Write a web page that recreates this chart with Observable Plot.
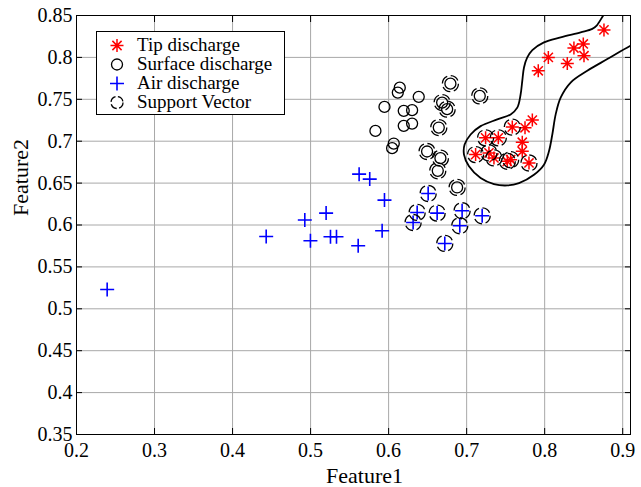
<!DOCTYPE html>
<html>
<head>
<meta charset="utf-8">
<script src="https://cdn.jsdelivr.net/npm/d3@7"></script>
<script src="https://cdn.jsdelivr.net/npm/@observablehq/plot@0.6"></script>
<style>
  body { margin: 0; background: #fff; }
  #wrap { position: relative; width: 641px; height: 487px; font-family: "Liberation Serif", serif; }
  #legend { position: absolute; left: 96px; top: 31px; width: 187px; height: 82px; border: 1px solid #000; background: #fff; font-size: 19px; }
  #legend .row { position: absolute; left: 0; height: 19px; line-height: 18px; white-space: nowrap; }
  #legend svg { position: absolute; left: 10px; top: -1px; }
  #legend span { position: absolute; display: block; left: 40px; top: 0; height: 18px; overflow: visible; }
</style>
</head>
<body>
<div id="wrap"></div>
<script>
// Tip discharge samples (red asterisks)
const tipX = [0.876, 0.8375, 0.8495, 0.8504, 0.8047, 0.829, 0.7918, 0.7842, 0.7748, 0.7585, 0.7713, 0.7243, 0.7406, 0.7713, 0.7115, 0.7286, 0.735, 0.7521, 0.7564, 0.7799];
const tipY = [0.8328, 0.8112, 0.816, 0.802, 0.80, 0.7928, 0.784, 0.7252, 0.716, 0.7168, 0.6988, 0.704, 0.704, 0.688, 0.684, 0.686, 0.680, 0.676, 0.678, 0.674];
const tipSV = [0, 0, 0, 0, 0, 0, 0, 0, 0, 1, 0, 1, 1, 0, 1, 1, 1, 1, 1, 1];

// Surface discharge samples (black circles)
const surfX = [0.6143, 0.6118, 0.6386, 0.6792, 0.7168, 0.5947, 0.6194, 0.6301, 0.6686, 0.675, 0.6194, 0.6301, 0.5831, 0.6643, 0.6066, 0.6045, 0.6493, 0.6664, 0.663, 0.6878];
const surfY = [0.7639, 0.758, 0.7529, 0.7687, 0.754, 0.7409, 0.7362, 0.737, 0.7461, 0.7382, 0.7183, 0.721, 0.7123, 0.7163, 0.6972, 0.6917, 0.6877, 0.6798, 0.6647, 0.6448];
const surfSV = [0, 0, 0, 1, 1, 0, 0, 0, 1, 1, 0, 0, 0, 1, 0, 0, 1, 1, 1, 1];

// Air discharge samples (blue plus signs)
const airX = [0.2393, 0.5622, 0.5758, 0.5947, 0.5199, 0.4926, 0.5917, 0.4431, 0.5255, 0.5332, 0.4998, 0.561, 0.6507, 0.6366, 0.6314, 0.6622, 0.6942, 0.6912, 0.7199, 0.672];
const airY = [0.523, 0.6607, 0.6548, 0.6297, 0.6142, 0.6059, 0.5931, 0.5863, 0.5859, 0.5859, 0.5812, 0.5753, 0.6376, 0.615, 0.603, 0.6142, 0.617, 0.5991, 0.611, 0.578];
const airSV = [0, 0, 0, 0, 0, 0, 0, 0, 0, 0, 0, 0, 1, 1, 1, 1, 1, 1, 1, 1];

// Decision boundary around the tip-discharge class
const boundaryX = [0.8800, 0.8751, 0.8666, 0.8610, 0.8461, 0.8205, 0.7991, 0.7842, 0.7777, 0.7735, 0.7713, 0.7692, 0.7649, 0.7564, 0.7393, 0.7179, 0.7051, 0.6974, 0.6966, 0.7030, 0.7179, 0.7350, 0.7521, 0.7671, 0.7863, 0.7991, 0.8055, 0.8098, 0.8141, 0.8205, 0.8333, 0.8546, 0.8803, 0.9102, 0.9200];
const boundaryY = [0.8560, 0.8500, 0.8380, 0.8340, 0.8300, 0.8240, 0.8180, 0.8088, 0.8000, 0.7880, 0.7720, 0.7560, 0.7400, 0.7320, 0.7260, 0.7180, 0.7080, 0.6960, 0.6840, 0.6700, 0.6560, 0.6488, 0.6472, 0.6500, 0.6600, 0.6720, 0.6880, 0.7080, 0.7320, 0.7520, 0.7700, 0.7840, 0.7980, 0.8140, 0.8180];

// Axis ticks and titles
const xTicks = [0.2, 0.3, 0.4, 0.5, 0.6, 0.7, 0.8, 0.9];
const yTicks = [0.35, 0.4, 0.45, 0.5, 0.55, 0.6, 0.65, 0.7, 0.75, 0.8, 0.85];
const xTitle = "Feature1";
const yTitle = "Feature2";

const rows = (xs, ys, sv) => xs.map((x, i) => ({x, y: ys[i], sv: sv[i]}));
const tip = rows(tipX, tipY, tipSV);
const surf = rows(surfX, surfY, surfSV);
const air = rows(airX, airY, airSV);
const supportVectors = [...tip, ...surf, ...air].filter(d => d.sv);
const boundary = boundaryX.map((x, i) => ({x, y: boundaryY[i]}));

// Stroke-only marker shapes
const asterisk = {
  draw(ctx, size) {
    const r = Math.sqrt(size / Math.PI), d = r * Math.SQRT1_2;
    ctx.moveTo(-r, 0); ctx.lineTo(r, 0);
    ctx.moveTo(0, -r); ctx.lineTo(0, r);
    ctx.moveTo(-d, -d); ctx.lineTo(d, d);
    ctx.moveTo(-d, d); ctx.lineTo(d, -d);
  }
};
const plus = {
  draw(ctx, size) {
    const r = Math.sqrt(size / Math.PI);
    ctx.moveTo(-r, 0); ctx.lineTo(r, 0);
    ctx.moveTo(0, -r); ctx.lineTo(0, r);
  }
};

const fmt = d => String(+d.toFixed(2));

const chart = Plot.plot({
  width: 641,
  height: 487,
  marginLeft: 76,
  marginRight: 11,
  marginTop: 15,
  marginBottom: 53,
  style: {fontFamily: "'Liberation Serif', serif", fontSize: "20px", color: "#000", background: "#fff"},
  x: {domain: [0.2, 0.91]},
  y: {domain: [0.35, 0.85]},
  marks: [
    Plot.gridX(xTicks, {stroke: "#a8a8a8", strokeOpacity: 1}),
    Plot.gridY(yTicks, {stroke: "#a8a8a8", strokeOpacity: 1}),
    Plot.axisX(xTicks, {tickSize: 0, tickPadding: 8, tickFormat: fmt, label: null}),
    Plot.axisY(yTicks, {tickSize: 0, tickPadding: 4, tickFormat: fmt, label: null}),
    Plot.axisX(xTicks, {anchor: "bottom", tickSize: -6, tickFormat: () => "", label: null}),
    Plot.axisX(xTicks, {anchor: "top", tickSize: -6, tickFormat: () => "", label: null}),
    Plot.axisY(yTicks, {anchor: "left", tickSize: -6, tickFormat: () => "", label: null}),
    Plot.axisY(yTicks, {anchor: "right", tickSize: -6, tickFormat: () => "", label: null}),
    Plot.text([xTitle], {frameAnchor: "bottom", dx: 11, dy: 41, fontSize: 22, lineAnchor: "middle"}),
    Plot.text([yTitle], {frameAnchor: "left", dx: -56, dy: -9, rotate: -90, fontSize: 22, lineAnchor: "middle"}),
    Plot.line(boundary, {x: "x", y: "y", stroke: "#000", strokeWidth: 1.8, curve: "catmull-rom", clip: true}),
    Plot.dot(surf, {x: "x", y: "y", r: 5.5, stroke: "#000", strokeWidth: 1.3, fill: "none"}),
    Plot.dot(air, {x: "x", y: "y", r: 7, symbol: plus, stroke: "#0000ff", strokeWidth: 1.6, fill: "none"}),
    Plot.dot(tip, {x: "x", y: "y", r: 6.5, symbol: asterisk, stroke: "#ff0000", strokeWidth: 1.5, fill: "none"}),
    Plot.dot(supportVectors, {x: "x", y: "y", r: 8, stroke: "#000", strokeWidth: 1.3, fill: "none", strokeDasharray: "9,3.6"}),
    Plot.frame({stroke: "#000", strokeWidth: 1})
  ]
});

const wrap = document.getElementById("wrap");
wrap.appendChild(chart);

// Legend box drawn over the axes
const legendItems = [
  {label: "Tip discharge", shape: "asterisk"},
  {label: "Surface discharge", shape: "circle"},
  {label: "Air discharge", shape: "plus"},
  {label: "Support Vector", shape: "sv"}
];
const legend = document.createElement("div");
legend.id = "legend";
legendItems.forEach((item, i) => {
  const row = document.createElement("div");
  row.className = "row";
  row.style.top = (4 + i * 19) + "px";
  let g = "";
  if (item.shape === "asterisk") g = '<path d="M3.5,10.5h13M10,4v13M5.4,5.9l9.2,9.2M5.4,15.1l9.2,-9.2" stroke="#ff0000" stroke-width="1.5" fill="none"/>';
  if (item.shape === "circle") g = '<circle cx="10" cy="10.5" r="5.5" stroke="#000" stroke-width="1.3" fill="none"/>';
  if (item.shape === "plus") g = '<path d="M3,10.5h14M10,3.5v14" stroke="#0000ff" stroke-width="1.6" fill="none"/>';
  if (item.shape === "sv") g = '<circle cx="10" cy="10.5" r="6" stroke="#000" stroke-width="1.3" fill="none" stroke-dasharray="7,2.5"/>';
  row.innerHTML = '<svg width="20" height="21">' + g + '</svg><span>' + item.label + '</span>';
  legend.appendChild(row);
});
wrap.appendChild(legend);
</script>
</body>
</html>
